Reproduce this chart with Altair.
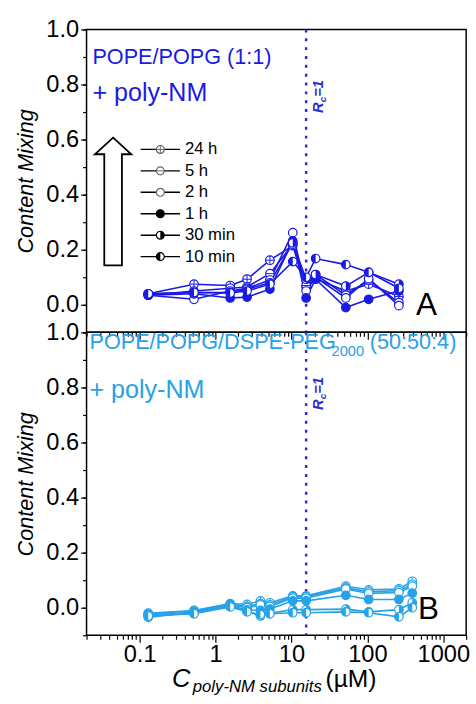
import altair as alt
import pandas as pd

# Poly-NM subunit concentrations (µM)
conc_a = [0.13, 0.52, 1.56, 2.6, 5.2, 10.4, 15.6, 20.8, 52, 104, 260]
conc_b = [0.13, 0.52, 1.56, 2.6, 3.9, 5.2, 10.4, 15.6, 52, 104, 260, 390]
rc_conc = 15.6  # charge ratio Rc = 1

times = ["24 h", "5 h", "2 h", "1 h", "30 min", "10 min"]

# Content mixing, POPE/POPG (1:1)
a_24h = [0.040, 0.075, 0.070, 0.093, 0.162, 0.215, 0.065, 0.095, 0.050, 0.075, 0.030]
a_5h = [0.035, 0.050, 0.060, 0.065, 0.113, 0.220, 0.070, 0.110, 0.035, 0.090, 0.008]
a_2h = [0.035, 0.020, 0.050, 0.060, 0.090, 0.262, 0.050, 0.100, 0.025, 0.095, -0.003]
a_1h = [0.035, 0.040, 0.025, 0.028, 0.057, 0.232, 0.025, 0.093, -0.010, 0.020, 0.050]
a_30m = [0.040, 0.045, 0.045, 0.057, 0.080, 0.225, 0.093, 0.110, 0.068, 0.118, 0.075]
a_10m = [0.040, 0.045, 0.043, 0.050, 0.075, 0.157, 0.100, 0.168, 0.146, 0.118, 0.060]

# Content mixing, POPE/POPG/DSPE-PEG2000 (50:50:4)
b_24h = [-0.020, -0.010, 0.015, 0.012, 0.025, 0.018, 0.043, 0.043, 0.078, 0.065, 0.068, 0.096]
b_5h = [-0.022, -0.012, 0.012, 0.005, 0.015, 0.010, 0.040, 0.040, 0.072, 0.058, 0.062, 0.085]
b_2h = [-0.035, -0.015, 0.010, 0.000, 0.010, 0.005, 0.035, 0.035, 0.068, 0.052, 0.055, 0.078]
b_1h = [-0.025, -0.018, 0.008, -0.008, -0.010, -0.005, 0.025, 0.025, 0.045, 0.030, 0.030, 0.053]
b_30m = [-0.030, -0.020, 0.005, -0.012, -0.030, -0.020, -0.007, -0.007, -0.005, -0.015, -0.007, 0.018]
b_10m = [-0.030, -0.022, 0.003, -0.015, -0.025, -0.022, -0.018, -0.018, -0.015, -0.018, -0.033, 0.000]

table_a = dict(zip(times, [a_24h, a_5h, a_2h, a_1h, a_30m, a_10m]))
table_b = dict(zip(times, [b_24h, b_5h, b_2h, b_1h, b_30m, b_10m]))

# marker glyph per incubation time
glyph_kind = {"24 h": "cross", "5 h": "bar", "2 h": "open",
              "1 h": "filled", "30 min": "right", "10 min": "left"}

FONT = "Liberation Sans"
BLUE_A = "#1a1ae4"
BLUE_B = "#25a2e8"
RC_BLUE = "#2c2cd2"
W, H = 386, 308
S = 76

SHAPES = {
    "left": "M 0 -1 A 1 1 0 0 0 0 1 Z",
    "right": "M 0 -1 A 1 1 0 0 1 0 1 Z",
    "cross": "M -1 0 L 1 0 M 0 -1 L 0 1",
    "bar": "M -1 0 L 1 0",
}
ARROW = ("M 0 -1 L 0.285 -0.74 L 0.138 -0.74 L 0.138 1 L -0.138 1 "
         "L -0.138 -0.74 L -0.285 -0.74 Z")

xscale = alt.Scale(type="log", domain=[0.02, 2000])
yscale = alt.Scale(domain=[-0.1, 1.0])

major_x_vals = [0.1, 1, 10, 100, 1000]
minor_x_vals = [m * 10 ** e for e in range(-2, 4) for m in range(2, 10)
                if 0.02 <= m * 10 ** e <= 2000]
major_y_vals = [0.0, 0.2, 0.4, 0.6, 0.8, 1.0]
minor_y_vals = [round(-0.1 + 0.1 * i, 1) for i in range(12)]


def one_row():
    return alt.Chart(pd.DataFrame({"k": [0]}))


def txt(s, x, y, size, color="black", style="normal", weight="normal",
        angle=0, align="left", baseline="alphabetic"):
    return one_row().mark_text(
        text=s, font=FONT, fontSize=size, color=color, fontStyle=style,
        fontWeight=weight, angle=angle, align=align, baseline=baseline
    ).encode(x=alt.value(x), y=alt.value(y))


def glyph(chart, kind, color, enc, size=S):
    fill = color if kind == "filled" else "white"
    layers = [chart.mark_point(shape="circle", filled=True, fill=fill,
                               stroke=color, strokeWidth=1.2, size=size,
                               opacity=1).encode(**enc)]
    if kind in ("left", "right"):
        layers.append(chart.mark_point(shape=SHAPES[kind], filled=True,
                                       fill=color, strokeWidth=0, size=size,
                                       opacity=1).encode(**enc))
    elif kind in ("cross", "bar"):
        layers.append(chart.mark_point(shape=SHAPES[kind], filled=False,
                                       stroke=color, strokeWidth=1, size=size,
                                       opacity=1).encode(**enc))
    return layers


def rc_label(y_base):
    x0 = 240
    return [
        txt("R", x0, y_base, 15, RC_BLUE, "italic", "bold", angle=270),
        txt("c", x0 + 3, y_base - 11, 10, RC_BLUE, "italic", "bold", angle=270),
        txt("=1", x0, y_base - 16.5, 15, RC_BLUE, "italic", "bold", angle=270),
    ]


def panel(conc, table, color, bottom):
    rows = [dict(c=c, v=v, t=t) for t in times for c, v in zip(conc, table[t])]
    df = pd.DataFrame(rows)

    major_x = alt.Axis(values=major_x_vals, orient="bottom", tickSize=7,
                       labels=bottom, format="~g", labelFontSize=24,
                       labelFont=FONT, labelPadding=1, labelFlush=False,
                       labelOverlap=False, title=None, domain=False, grid=False)
    minor_x = alt.Axis(values=minor_x_vals, orient="bottom", tickSize=4,
                       labels=False, title=None, domain=False, grid=False)
    major_y = alt.Axis(values=major_y_vals, orient="left", tickSize=6,
                       format=".1f", labelFontSize=24, labelFont=FONT,
                       labelPadding=2, labelFlush=False, labelOverlap=False,
                       title="Content Mixing", titleFont=FONT, titleFontSize=22,
                       titleFontStyle="italic", titleFontWeight="normal",
                       titlePadding=9, domain=False, grid=False)
    minor_y = alt.Axis(values=minor_y_vals, orient="left", tickSize=4,
                       labels=False, title=None, domain=False, grid=False)

    base = alt.Chart(df)
    line = base.mark_line(color=color, strokeWidth=1.6).encode(
        x=alt.X("c:Q", scale=xscale, axis=major_x),
        y=alt.Y("v:Q", scale=yscale, axis=major_y),
        detail="t:N",
    )
    minor = base.mark_point(opacity=0).encode(
        x=alt.X("c:Q", scale=xscale, axis=minor_x),
        y=alt.Y("v:Q", scale=yscale, axis=minor_y),
    )
    rule = alt.Chart(pd.DataFrame({"c": [rc_conc]})).mark_rule(
        color=RC_BLUE, strokeWidth=2.5, strokeDash=[3, 6]
    ).encode(x=alt.X("c:Q", scale=xscale, axis=None))

    enc = dict(x=alt.X("c:Q", scale=xscale, axis=None),
               y=alt.Y("v:Q", scale=yscale, axis=None))
    marks = []
    for t in times:
        sub = base.transform_filter(alt.datum.t == t)
        marks += glyph(sub, glyph_kind[t], color, enc)
    return [line, minor, rule] + marks


# ---- panel A: POPE/POPG ----
layers_a = panel(conc_a, table_a, BLUE_A, bottom=False)
layers_a += [
    txt("POPE/POPG (1:1)", 6, 35, 22, BLUE_A),
    txt("+ poly-NM", 6, 73, 25.5, BLUE_A),
    txt("A", 335, 290, 32),
]
layers_a += rc_label(85)

# time legend with arrow
layers_a.append(one_row().mark_point(
    shape=ARROW, size=130 ** 2, filled=True, fill="white", stroke="black",
    strokeWidth=1.8, opacity=1).encode(x=alt.value(27), y=alt.value(175)))
for i, t in enumerate(times):
    yy = 122 + i * 21.8
    kind = glyph_kind[t]
    mcol = "#666666" if kind in ("cross", "bar", "open") else "black"
    layers_a.append(one_row().mark_rule(color="black", strokeWidth=1.4).encode(
        x=alt.value(55), x2=alt.value(95), y=alt.value(yy)))
    layers_a += glyph(one_row(), kind, mcol,
                      dict(x=alt.value(75), y=alt.value(yy)), size=64)
    layers_a.append(txt(t, 100, yy, 17, baseline="middle"))

panel_a = alt.layer(*layers_a).resolve_axis(
    x="independent", y="independent").properties(width=W, height=H)

# ---- panel B: POPE/POPG/DSPE-PEG2000 ----
layers_b = panel(conc_b, table_b, BLUE_B, bottom=True)
layers_b += [
    txt("POPE/POPG/DSPE-PEG", 3, 17, 22, BLUE_B),
    txt("2000", 249, 24, 15, BLUE_B),
    txt("(50:50:4)", 288, 17, 22, BLUE_B),
    txt("+ poly-NM", 3, 67, 25.5, BLUE_B),
    txt("B", 337, 291, 32),
    # x-axis title with subscript
    txt("C", 87, 361, 26, style="italic"),
    txt("poly-NM subunits", 108, 366, 17, style="italic"),
    txt("(µM)", 243, 361, 25),
]
layers_b += rc_label(79)

panel_b = alt.layer(*layers_b).resolve_axis(
    x="independent", y="independent").properties(width=W, height=H)

chart = alt.vconcat(panel_a, panel_b, spacing=0, bounds="flush").properties(
    padding={"left": 13, "top": 11, "right": 5, "bottom": 5}
).configure_view(stroke="black", strokeWidth=1.5).configure_axis(
    tickColor="black", labelColor="black", titleColor="black", tickWidth=1.2
)

chart.save("out.html", embed_options={"renderer": "svg", "actions": False})
